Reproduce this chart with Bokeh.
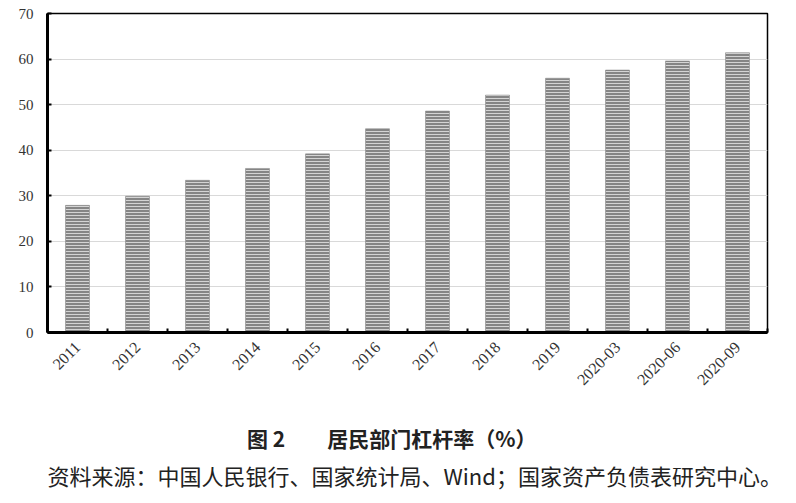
import math
from bokeh.plotting import figure
from bokeh.models import FixedTicker, Title, ColumnDataSource, Range1d
from bokeh.embed import file_html
from bokeh.resources import INLINE

categories = ["2011", "2012", "2013", "2014", "2015", "2016", "2017", "2018",
              "2019", "2020-03", "2020-06", "2020-09"]
values = [27.9, 29.9, 33.4, 36.0, 39.2, 44.7, 48.6, 52.1, 55.8, 57.6, 59.6, 61.4]
y_ticks = [0, 10, 20, 30, 40, 50, 60, 70]
title_text = "图 2　　居民部门杠杆率（%）　　"
source_text = "资料来源：中国人民银行、国家统计局、Wind；国家资产负债表研究中心。"

n = len(categories)
centers = [i + 0.5 for i in range(n)]
bounds = [i for i in range(n + 1)]

p = figure(frame_width=720, frame_height=319, output_backend="svg", toolbar_location=None,
           x_range=Range1d(0, n), y_range=Range1d(0, 70),
           min_border_left=47, min_border_right=23, min_border_top=13,
           min_border_bottom=150)

src = ColumnDataSource(dict(x=centers, top=values))
p.vbar(x="x", top="top", width=0.4, bottom=0, source=src,
       fill_color="#858585", line_color="#888888", line_width=0.5,
       hatch_pattern="horizontal_line", hatch_color="#d4d4d4",
       hatch_scale=3, hatch_weight=1)

# x axis
xa = p.xaxis[0]
xa.ticker = FixedTicker(ticks=centers, minor_ticks=bounds)
xa.major_label_overrides = {c: lab for c, lab in zip(centers, categories)}
xa.major_tick_in = 0
xa.major_tick_out = 0
xa.minor_tick_in = 4
xa.minor_tick_out = 0
xa.minor_tick_line_color = "black"
xa.minor_tick_line_width = 2
xa.axis_line_color = "black"
xa.axis_line_width = 3
xa.major_label_orientation = math.pi / 4
xa.major_label_text_font = "Liberation Serif"
xa.major_label_text_font_size = "16px"
xa.major_label_text_color = "#333333"
xa.major_label_standoff = 12
xa.axis_label = title_text
xa.axis_label_text_font = "Noto Sans CJK SC"
xa.axis_label_text_font_size = "21px"
xa.axis_label_text_font_style = "bold"
xa.axis_label_text_color = "#222222"
xa.axis_label_standoff = 30

# y axis
ya = p.yaxis[0]
ya.ticker = FixedTicker(ticks=y_ticks)
ya.major_tick_in = 4
ya.major_tick_out = 0
ya.major_tick_line_color = "black"
ya.major_tick_line_width = 2
ya.minor_tick_line_color = None
ya.axis_line_color = "black"
ya.axis_line_width = 3
ya.major_label_text_font = "Liberation Serif"
ya.major_label_text_font_size = "15px"
ya.major_label_text_color = "#333333"
ya.major_label_standoff = 14

p.xgrid.grid_line_color = None
p.ygrid.ticker = FixedTicker(ticks=y_ticks)
p.ygrid.grid_line_color = "#d9d9d9"
p.ygrid.grid_line_width = 1

p.outline_line_color = "black"
p.outline_line_width = 1.5
p.background_fill_color = "white"
p.border_fill_color = "white"

t2 = Title(text=source_text, align="left", text_font="Noto Sans CJK SC",
           text_font_size="22px", text_font_style="normal", text_color="#222222",
           standoff=3, offset=0)
p.add_layout(t2, "below")

open("out.html", "w").write(file_html(p, INLINE))
